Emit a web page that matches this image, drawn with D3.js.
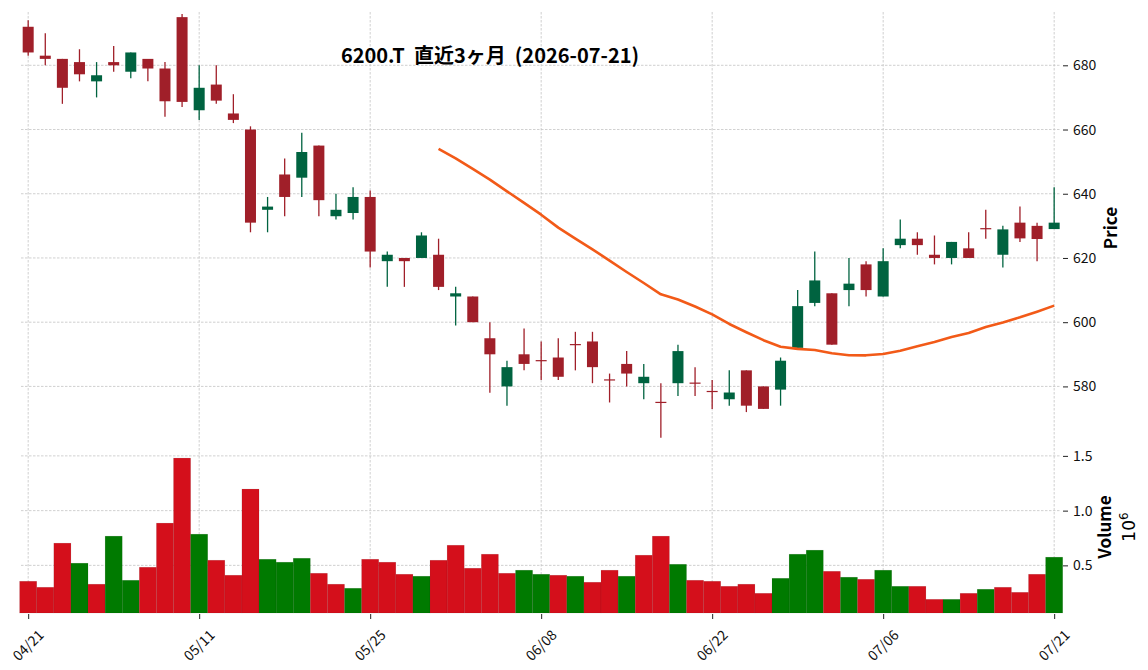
<!DOCTYPE html>
<html>
<head>
<meta charset="utf-8">
<script src="https://cdn.jsdelivr.net/npm/d3@7"></script>
<style>
  body { margin: 0; background: #fff; }
  text { font-family: "Noto Sans CJK JP", "Noto Sans", sans-serif; }
</style>
</head>
<body>
<div id="chart"></div>
<script>
// Trading days (MM/DD)
const dates = ["04/21","04/22","04/23","04/24","04/27","04/28","04/30","05/01","05/07","05/08",
  "05/11","05/12","05/13","05/14","05/15","05/18","05/19","05/20","05/21","05/22",
  "05/25","05/26","05/27","05/28","05/29","06/01","06/02","06/03","06/04","06/05",
  "06/08","06/09","06/10","06/11","06/12","06/15","06/16","06/17","06/18","06/19",
  "06/22","06/23","06/24","06/25","06/26","06/29","06/30","07/01","07/02","07/03",
  "07/06","07/07","07/08","07/09","07/10","07/13","07/14","07/15","07/16","07/17","07/21"];

const opens = [692,683,682,681,675,681,678,682,679,695,
  666,674,665,660,635,646,645,655,633,634,
  639,619,620,620,621,608,608,595,580,590,
  588.2,589,593.2,594,582.2,587,581,575.2,581,581.2,
  578.6,576,585,580,579,592,606,609,610,618,
  608,624,626,621,620,623,629.3,621,631,630,629];
const highs = [694,690,682,685,681,686,684,682,681,696,
  680,680,671,661,639,651,659,655,640,642,
  641,622,620,628,626,611,608,600,588,598,
  594,595,597,597,584,591,587,581,593,586,
  582,585,585,580,589,610,622,609,620,619,
  623,632,628,627,625,628,635,630,636,631,642];
const lows = [683,680,668,675,670,678,676,675,664,667,
  663,668,662,628,628,633,639,633,632,632,
  617,611,611,620,610,599,600,578,574,585,
  582,582,585,581,575,580,576,564,577,577,
  573,574,572,573,574,592,605,593,605,608,
  608,623,621,618,618,620,626,617,625,619,629];
const closes = [684,682,673,677.2,676.9,680,684,679,668.8,668.6,
  673,669,663,631,636,639,653,638,635,639,
  622,621,619,627,611,609,600,590,586,587,
  588,583,593,586,582,584,583,575,591,581,
  578.4,578.1,574,573,588,605,613,593,612,610,
  619,626,624,620,625,620,629.1,628.9,626.1,625.9,631];
const volumes = [355000,300000,703000,520000,328000,767000,364000,483000,886000,1480000,
  785000,547000,410000,1197000,556000,529000,565000,428000,328000,291000,
  556000,529000,419000,401000,547000,684000,474000,602000,428000,456000,
  419000,410000,401000,346000,456000,401000,593000,767000,510000,364000,
  355000,309000,328000,245000,382000,602000,639000,446000,392000,373000,
  456000,309000,309000,190000,190000,245000,282000,300000,254000,419000,575000];

// 25-day moving average, starts at the 25th session
const maStart = 24;
const ma25 = [654.0,651.0,647.72,644.4,640.76,637.16,633.48,629.44,626.0,622.68,
  619.2,615.64,612.2,608.68,607.08,604.88,602.44,599.44,596.88,594.4,
  592.36,591.68,591.36,590.32,589.72,589.68,590.08,591.12,592.48,593.84,
  595.36,596.64,598.48,599.92,601.52,603.28,605.16];

const priceTicks = [580, 600, 620, 640, 660, 680];
const volTicks = [500000, 1000000, 1500000];
const dateTickIdx = [0, 10, 20, 30, 40, 50, 60];

const W = 1148, H = 670;
const left = 21, right = 1061;
const priceTop = 12, priceBottom = 441;
const volTop = 441, volBottom = 613;

const upCandle = "#006340", downCandle = "#a01f29";
const upVol = "#007a00", downVol = "#d40f1b";
const gridColor = "#c4c4c4";

const svg = d3.select("#chart").append("svg")
  .attr("width", W)
  .attr("height", H);

const x = d3.scaleLinear().domain([-0.42, 60.4]).range([left, right]);
const yPrice = d3.scaleLinear().domain([563.0, 696.6]).range([priceBottom, priceTop]);
const yVol = d3.scaleLinear().domain([65000, 1636000]).range([volBottom, volTop]);

const step = x(1) - x(0);
const bodyW = 11;

// grid
const grid = svg.append("g");
dateTickIdx.forEach(i => {
  grid.append("line")
    .attr("x1", x(i)).attr("x2", x(i))
    .attr("y1", priceTop).attr("y2", volBottom)
    .attr("stroke", gridColor).attr("stroke-width", 0.8)
    .attr("stroke-dasharray", "2.5,1.5");
});
priceTicks.forEach(p => {
  grid.append("line")
    .attr("x1", left).attr("x2", right)
    .attr("y1", yPrice(p)).attr("y2", yPrice(p))
    .attr("stroke", gridColor).attr("stroke-width", 0.8)
    .attr("stroke-dasharray", "2.5,1.5");
});
volTicks.forEach(v => {
  grid.append("line")
    .attr("x1", left).attr("x2", right)
    .attr("y1", yVol(v)).attr("y2", yVol(v))
    .attr("stroke", gridColor).attr("stroke-width", 0.8)
    .attr("stroke-dasharray", "2.5,1.5");
});

// volume bars (coloured by close vs previous close)
const volColor = i => {
  if (i === 0) return closes[0] >= opens[0] ? upVol : downVol;
  return closes[i] >= closes[i - 1] ? upVol : downVol;
};
svg.append("g").selectAll("rect")
  .data(volumes)
  .enter()
  .append("rect")
  .attr("x", (d, i) => x(i) - step / 2)
  .attr("y", d => yVol(d))
  .attr("width", step)
  .attr("height", d => volBottom - yVol(d))
  .attr("fill", (d, i) => volColor(i))
  .attr("stroke", "rgba(0,0,0,0.12)")
  .attr("stroke-width", 0.6);

// candles
const candles = svg.append("g");
dates.forEach((d, i) => {
  const up = closes[i] >= opens[i];
  const col = up ? upCandle : downCandle;
  candles.append("line")
    .attr("x1", x(i)).attr("x2", x(i))
    .attr("y1", yPrice(highs[i])).attr("y2", yPrice(lows[i]))
    .attr("stroke", col).attr("stroke-width", 1.3);
  const top = yPrice(Math.max(opens[i], closes[i]));
  const bot = yPrice(Math.min(opens[i], closes[i]));
  candles.append("rect")
    .attr("x", x(i) - bodyW / 2)
    .attr("y", top)
    .attr("width", bodyW)
    .attr("height", Math.max(bot - top, 1.2))
    .attr("fill", col);
});

// moving average
const line = d3.line()
  .x((d, k) => x(maStart + k))
  .y(d => yPrice(d));
svg.append("path")
  .datum(ma25)
  .attr("d", line)
  .attr("fill", "none")
  .attr("stroke", "#f25a18")
  .attr("stroke-width", 2.6)
  .attr("stroke-linejoin", "round");

// right axes
const priceAxis = svg.append("g")
  .attr("transform", `translate(${right + 2},0)`)
  .call(d3.axisRight(yPrice).tickValues(priceTicks).tickSize(5).tickPadding(5));
const volAxis = svg.append("g")
  .attr("transform", `translate(${right + 2},0)`)
  .call(d3.axisRight(yVol).tickValues(volTicks).tickSize(5).tickPadding(5)
    .tickFormat(v => (v / 1e6).toFixed(1)));
[priceAxis, volAxis].forEach(a => {
  a.select(".domain").remove();
  a.selectAll("line").attr("stroke", "#222");
  a.selectAll("text").attr("font-size", 14).attr("fill", "#111")
    .style("font-family", "'Noto Sans CJK JP', sans-serif");
});

// bottom date axis
const dateAxis = svg.append("g")
  .attr("transform", `translate(0,${volBottom + 1})`)
  .call(d3.axisBottom(x).tickValues(dateTickIdx).tickSize(5)
    .tickFormat(i => dates[i]));
dateAxis.select(".domain").remove();
dateAxis.selectAll("line").attr("stroke", "#222");
dateAxis.selectAll("text")
  .attr("x", 0).attr("y", 0).attr("dy", 0)
  .attr("text-anchor", "end")
  .attr("transform", "translate(16,22) rotate(-45)")
  .attr("font-size", 14).attr("fill", "#111")
  .style("font-family", "'Noto Sans CJK JP', sans-serif");

// title
svg.append("text")
  .attr("x", 490)
  .attr("y", 63)
  .attr("text-anchor", "middle")
  .attr("font-size", 20)
  .attr("font-weight", "bold")
  .attr("fill", "#000")
  .text("6200.T  直近3ヶ月  (2026-07-21)")
  .style("white-space", "pre");

// axis labels
svg.append("text")
  .attr("transform", `translate(1117,${(208 + 248) / 2}) rotate(-90)`)
  .attr("text-anchor", "middle")
  .attr("font-size", 17)
  .attr("font-weight", "bold")
  .text("Price");

svg.append("text")
  .attr("transform", `translate(1111,527) rotate(-90)`)
  .attr("text-anchor", "middle")
  .attr("font-size", 17)
  .attr("font-weight", "bold")
  .text("Volume");

const exp = svg.append("text")
  .attr("transform", `translate(1135,527) rotate(-90)`)
  .attr("text-anchor", "middle")
  .attr("font-size", 17)
  .style("font-family", "'DejaVu Sans', sans-serif");
exp.append("tspan").text("10");
exp.append("tspan").attr("dy", -7).attr("font-size", 12).text("6");
</script>
</body>
</html>
